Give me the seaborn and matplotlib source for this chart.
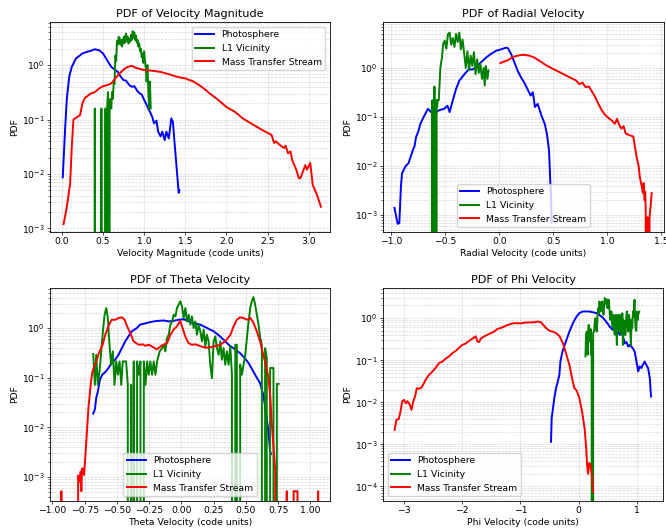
import matplotlib
matplotlib.use("Agg")
import matplotlib.pyplot as plt
import seaborn as sns

# ---------------- Velocity magnitude ----------------
vmag_photo_x = [0.01, 0.04, 0.06, 0.09, 0.12, 0.17, 0.25, 0.30, 0.35, 0.40, 0.45, 0.50, 0.55, 0.60, 0.62,
                0.65, 0.68, 0.70, 0.72, 0.75, 0.78, 0.80, 0.82, 0.85, 0.88, 0.90, 0.92, 0.95, 0.97, 1.00,
                1.02, 1.05, 1.07, 1.10, 1.12, 1.15, 1.17, 1.20, 1.22, 1.25, 1.27, 1.30, 1.33, 1.35, 1.37,
                1.40, 1.42, 1.43]
vmag_photo_y = [0.0087, 0.074, 0.245, 0.63, 0.93, 1.32, 1.64, 1.75, 1.83, 1.96, 1.88, 1.64, 1.23, 0.93, 0.88,
                0.81, 0.75, 0.66, 0.60, 0.53, 0.52, 0.47, 0.43, 0.40, 0.41, 0.37, 0.33, 0.30, 0.29, 0.23,
                0.20, 0.16, 0.14, 0.11, 0.085, 0.095, 0.06, 0.049, 0.06, 0.042, 0.06, 0.045, 0.105, 0.09, 0.037,
                0.0105, 0.0045, 0.005]

vmag_l1_x = [0.39, 0.40, 0.41, 0.47, 0.48, 0.49, 0.52, 0.53, 0.54, 0.55, 0.56, 0.57, 0.58, 0.59, 0.60,
             0.61, 0.62, 0.63, 0.64, 0.65, 0.66, 0.67, 0.68, 0.69, 0.70, 0.71, 0.72, 0.73, 0.74, 0.75,
             0.76, 0.77, 0.78, 0.79, 0.80, 0.81, 0.82, 0.83, 0.84, 0.85, 0.86, 0.87, 0.88, 0.89, 0.90,
             0.91, 0.92, 0.93, 0.94, 0.95, 0.96, 0.97, 0.98, 0.99, 1.00, 1.01, 1.02, 1.03, 1.04, 1.05,
             1.06, 1.07, 1.08]
vmag_l1_y = [0, 0.16, 0, 0, 0.16, 0, 0, 0.16, 0, 0.16, 0.32, 0, 0.16, 0.24, 0.16,
             0.32, 0.24, 0.50, 0.45, 1.5, 1.2, 2.8, 2.4, 3.3, 3.2, 2.4, 2.9, 2.2, 3.0, 2.5,
             3.4, 2.6, 3.8, 2.8, 3.3, 2.5, 3.0, 2.7, 3.6, 2.9, 4.2, 3.2, 4.0, 2.9, 3.5,
             2.6, 2.9, 2.2, 2.5, 1.8, 2.0, 1.4, 1.6, 1.1, 1.8, 1.2, 0.9, 0.5, 1.0, 0.35,
             0.16, 0.5, 0.16]

vmag_stream_x = [0.02, 0.06, 0.10, 0.12, 0.14, 0.18, 0.22, 0.25, 0.28, 0.35, 0.40, 0.45, 0.50, 0.55, 0.60,
                 0.65, 0.70, 0.75, 0.80, 0.85, 0.90, 0.95, 1.00, 1.10, 1.20, 1.30, 1.40, 1.50, 1.60, 1.70,
                 1.80, 1.90, 2.00, 2.10, 2.20, 2.30, 2.40, 2.50, 2.55, 2.58, 2.60, 2.65, 2.70, 2.72, 2.75,
                 2.78, 2.80, 2.85, 2.88, 2.90, 2.93, 2.96, 2.98, 3.02, 3.05, 3.10, 3.15]
vmag_stream_y = [0.0012, 0.0025, 0.0068, 0.032, 0.10, 0.11, 0.12, 0.20, 0.25, 0.30, 0.32, 0.37, 0.41, 0.43, 0.46,
                 0.57, 0.70, 0.83, 0.93, 0.97, 0.89, 0.85, 0.81, 0.79, 0.75, 0.68, 0.61, 0.57, 0.50, 0.40,
                 0.30, 0.23, 0.17, 0.14, 0.105, 0.085, 0.069, 0.057, 0.052, 0.037, 0.040, 0.034, 0.030, 0.033, 0.024,
                 0.026, 0.018, 0.012, 0.0084, 0.0084, 0.011, 0.0146, 0.012, 0.016, 0.0063, 0.0042, 0.0025]

# ---------------- Radial velocity ----------------
vr_photo_x = [-0.97, -0.94, -0.925, -0.91, -0.90, -0.866, -0.84, -0.825, -0.80, -0.785, -0.77, -0.75, -0.73,
              -0.70, -0.66, -0.63, -0.60, -0.56, -0.51, -0.48, -0.46, -0.43, -0.40, -0.37, -0.32, -0.28,
              -0.25, -0.22, -0.17, -0.12, -0.08, -0.03, 0.015, 0.06, 0.08, 0.11, 0.14, 0.17, 0.20, 0.23,
              0.26, 0.29, 0.31, 0.33, 0.355, 0.37, 0.395, 0.42, 0.44, 0.46, 0.47, 0.48, 0.485]
vr_photo_y = [0.0014, 0.00066, 0.00068, 0.0038, 0.0071, 0.010, 0.0114, 0.0144, 0.021, 0.025, 0.039, 0.050, 0.073,
              0.10, 0.147, 0.126, 0.117, 0.137, 0.147, 0.17, 0.126, 0.22, 0.375, 0.55, 0.76, 0.95,
              0.93, 1.03, 1.30, 1.65, 1.92, 2.25, 2.40, 2.60, 2.55, 1.92, 1.30, 0.88, 0.65, 0.51,
              0.375, 0.275, 0.32, 0.16, 0.186, 0.147, 0.10, 0.073, 0.046, 0.021, 0.006, 0.002, 0.0007]

vr_l1_x = [-0.625, -0.62, -0.615, -0.605, -0.60, -0.595, -0.59, -0.585, -0.58, -0.575, -0.57, -0.56,
           -0.545, -0.53, -0.52, -0.505, -0.49, -0.475, -0.46, -0.445, -0.43, -0.415, -0.40, -0.385,
           -0.37, -0.355, -0.34, -0.325, -0.31, -0.295, -0.28, -0.265, -0.25, -0.235, -0.22, -0.205,
           -0.19, -0.175, -0.16, -0.145, -0.135, -0.125, -0.11, -0.10]
vr_l1_y = [0, 0.22, 0, 0, 0.42, 0, 0.22, 0, 0.22, 0.16, 0.22, 0.22,
           1.03, 1.65, 3.07, 3.6, 2.5, 4.9, 5.3, 3.0, 4.1, 2.7, 5.0, 3.4,
           5.3, 2.4, 3.8, 2.0, 1.0, 2.2, 0.9, 1.8, 1.1, 2.1, 0.75, 1.5,
           0.8, 1.2, 0.6, 1.0, 0.44, 1.1, 0.6, 0.9]

vr_stream_x = [0.01, 0.045, 0.08, 0.11, 0.14, 0.19, 0.23, 0.28, 0.32, 0.37, 0.43, 0.50, 0.56, 0.62, 0.68,
               0.71, 0.74, 0.77, 0.80, 0.83, 0.85, 0.88, 0.91, 0.94, 0.97, 1.00, 1.04, 1.07, 1.09, 1.11,
               1.13, 1.15, 1.17, 1.20, 1.24, 1.255, 1.27, 1.29, 1.30, 1.315, 1.33, 1.335, 1.345, 1.35,
               1.355, 1.36, 1.37, 1.375, 1.385, 1.39, 1.40, 1.41]
vr_stream_y = [1.26, 1.36, 1.45, 1.60, 1.72, 1.83, 1.86, 1.78, 1.65, 1.41, 1.15, 0.95, 0.82, 0.70, 0.60,
               0.56, 0.47, 0.50, 0.405, 0.42, 0.35, 0.275, 0.20, 0.147, 0.117, 0.10, 0.085, 0.073, 0.092, 0.068,
               0.058, 0.065, 0.046, 0.043, 0.040, 0.025, 0.0155, 0.0098, 0.006, 0.0041, 0.0028, 0.0045, 0.002, 0.003,
               0.0012, 0, 0.0009, 0, 0, 0.0009, 0.0015, 0.0028]

# ---------------- Theta velocity ----------------
vth_photo_x = [-0.683, -0.67, -0.66, -0.647, -0.632, -0.613, -0.59, -0.564, -0.54, -0.513, -0.487, -0.46,
               -0.435, -0.41, -0.384, -0.345, -0.32, -0.29, -0.25, -0.214, -0.175, -0.137, -0.098, -0.06,
               -0.02, 0.005, 0.03, 0.057, 0.095, 0.147, 0.20, 0.25, 0.30, 0.34, 0.38, 0.42, 0.456, 0.49,
               0.52, 0.56, 0.585, 0.61, 0.635, 0.655, 0.675, 0.688, 0.695]
vth_photo_y = [0.019, 0.023, 0.039, 0.053, 0.09, 0.115, 0.13, 0.157, 0.20, 0.23, 0.29, 0.40,
               0.54, 0.68, 0.86, 1.0, 1.17, 1.22, 1.30, 1.36, 1.40, 1.42, 1.36, 1.40,
               1.47, 1.50, 1.47, 1.36, 1.26, 1.17, 1.0, 0.86, 0.68, 0.54, 0.43, 0.37, 0.31, 0.25,
               0.20, 0.13, 0.10, 0.078, 0.045, 0.021, 0.0083, 0.0033, 0.0029]

vth_l1_x = [-0.683, -0.670, -0.660, -0.647, -0.634, -0.621, -0.608, -0.595, -0.582, -0.570, -0.557, -0.544,
            -0.531, -0.518, -0.505, -0.492, -0.479, -0.466, -0.454, -0.441, -0.428, -0.415, -0.402, -0.389,
            -0.376, -0.369, -0.356, -0.343, -0.330, -0.317, -0.304, -0.291, -0.278, -0.265, -0.253, -0.240,
            -0.227, -0.214, -0.201, -0.188, -0.168, -0.149, -0.137, -0.124, -0.111, -0.098, -0.085, -0.072,
            -0.059, -0.046, -0.034, -0.021, -0.008, 0.005, 0.018, 0.031, 0.044, 0.057, 0.070, 0.082,
            0.095, 0.108, 0.121, 0.134, 0.147, 0.160, 0.173, 0.186, 0.198, 0.211, 0.224, 0.237,
            0.250, 0.263, 0.276, 0.289, 0.302, 0.314, 0.327, 0.340, 0.353, 0.366, 0.379, 0.392,
            0.405, 0.418, 0.430, 0.443, 0.456, 0.469, 0.482, 0.495, 0.508, 0.521, 0.534, 0.546,
            0.559, 0.572, 0.585, 0.598, 0.611, 0.624, 0.637, 0.649, 0.662, 0.675, 0.688, 0.701,
            0.714, 0.727, 0.740, 0.753]
vth_l1_y = [0.30, 0.072, 0.29, 0.072, 0.134, 0.339, 0.857, 1.85, 2.53, 1.59, 0.46, 0.183,
            0.339, 0.072, 0.213, 0.115, 0.213, 0.072, 0.213, 0.213, 0.213, 0.072, 0, 0.072,
            0, 0.213, 0, 0.213, 0.115, 0.213, 0, 0.213, 0.072, 0.213, 0.115, 0.213,
            0.115, 0.213, 0.115, 0.213, 0.339, 0.395, 0.46, 0.339, 0.63, 0.734, 1.17, 1.36,
            1.85, 1.72, 2.53, 2.95, 3.45, 2.73, 1.59, 2.53, 1.36, 1.85, 1.17, 1.72,
            1.0, 1.36, 0.734, 1.17, 0.857, 0.54, 0.93, 0.43, 0.734, 0.54, 0.183, 0.098,
            0.54, 0.68, 0.395, 0.29, 0.54, 0.23, 0.395, 0.183, 0.339, 0.183, 0.43, 0.115,
            0, 0.46, 0.46, 0, 0.183, 0.115, 0.183, 0.29, 0.63, 1.36, 2.53, 3.45,
            4.2, 2.95, 1.85, 1.17, 0.63, 0.46, 0, 0.395, 0.249, 0, 0.157, 0.157,
            0.157, 0, 0.075, 0.075]

vth_stream_x = [-0.935, -0.93, -0.925, -0.81, -0.80, -0.79, -0.78, -0.775, -0.77, -0.76, -0.755, -0.745,
                -0.735, -0.72, -0.70, -0.69, -0.66, -0.64, -0.61, -0.59, -0.56, -0.54, -0.51, -0.485,
                -0.46, -0.44, -0.42, -0.39, -0.37, -0.33, -0.30, -0.28, -0.25, -0.21, -0.19, -0.16,
                -0.14, -0.11, -0.085, -0.06, -0.035, -0.008, 0.005, 0.03, 0.055, 0.08, 0.11, 0.15,
                0.19, 0.22, 0.26, 0.30, 0.34, 0.38, 0.405, 0.43, 0.455, 0.48, 0.51, 0.535,
                0.56, 0.585, 0.61, 0.635, 0.655, 0.675, 0.69, 0.70, 0.715, 0.728, 0.735,
                0.81, 0.817, 0.825, 0.865, 0.87, 0.88, 0.89, 0.90, 0.905, 1.055, 1.06, 1.065]
vth_stream_y = [0, 0.00052, 0, 0, 0.00107, 0.0008, 0.0013, 0.00052, 0.0015, 0.0014, 0.0011, 0.0024,
                0.006, 0.025, 0.085, 0.13, 0.21, 0.31, 0.46, 0.73, 1.17, 1.47, 1.47, 1.60,
                1.64, 1.47, 1.08, 0.73, 0.54, 0.46, 0.47, 0.44, 0.46, 0.40, 0.37, 0.43,
                0.46, 0.50, 0.73, 0.93, 1.08, 1.40, 1.08, 0.68, 0.50, 0.46, 0.47, 0.43,
                0.40, 0.41, 0.43, 0.46, 0.54, 0.73, 1.08, 1.47, 1.64, 1.60, 1.47, 1.60,
                1.26, 0.85, 0.54, 0.29, 0.18, 0.10, 0.039, 0.013, 0.0038, 0.0013, 0,
                0, 0.00052, 0, 0, 0.00052, 0.00052, 0.00052, 0.00052, 0, 0, 0.00052, 0]

# ---------------- Phi velocity ----------------
vph_photo_x = [-0.476, -0.465, -0.45, -0.42, -0.39, -0.36, -0.333, -0.315, -0.28, -0.22, -0.16, -0.10,
               -0.046, 0.01, 0.07, 0.126, 0.18, 0.24, 0.30, 0.35, 0.41, 0.47, 0.53, 0.58, 0.615, 0.64,
               0.67, 0.70, 0.73, 0.76, 0.79, 0.82, 0.85, 0.875, 0.905, 0.93, 0.96, 0.99, 1.02, 1.045,
               1.075, 1.10, 1.13, 1.16, 1.19, 1.22, 1.24]
vph_photo_y = [0.00115, 0.0042, 0.006, 0.0125, 0.0216, 0.031, 0.045, 0.093, 0.16, 0.28, 0.48, 0.76,
               1.04, 1.32, 1.44, 1.44, 1.44, 1.38, 1.32, 1.20, 1.04, 0.83, 0.63, 0.53, 0.58, 0.48,
               0.53, 0.40, 0.48, 0.37, 0.25, 0.27, 0.21, 0.23, 0.21, 0.19, 0.16, 0.093, 0.054, 0.071,
               0.065, 0.077, 0.093, 0.077, 0.065, 0.037, 0.0137]

vph_l1_x = [0.115, 0.125, 0.138, 0.148, 0.155, 0.165, 0.172, 0.185, 0.195, 0.205, 0.212, 0.222,
            0.229, 0.240, 0.247, 0.264, 0.275, 0.287, 0.298, 0.31, 0.322, 0.333, 0.345, 0.356,
            0.368, 0.379, 0.39, 0.402, 0.413, 0.425, 0.436, 0.447, 0.458, 0.47, 0.48, 0.493,
            0.505, 0.516, 0.528, 0.539, 0.55, 0.562, 0.573, 0.585, 0.593, 0.602, 0.611, 0.62,
            0.628, 0.637, 0.645, 0.654, 0.662, 0.671, 0.68, 0.688, 0.697, 0.706, 0.714, 0.723,
            0.731, 0.74, 0.748, 0.757, 0.768, 0.78, 0.79, 0.803, 0.815, 0.826, 0.838, 0.849,
            0.86, 0.872, 0.884, 0.895, 0.906, 0.918, 0.93, 0.941, 0.95, 0.958, 0.967, 0.975,
            0.986, 0.998, 1.01, 1.021, 1.038]
vph_l1_y = [0.122, 0.40, 0.48, 0.20, 0.134, 0.60, 0.69, 0.35, 0.28, 0.55, 0.134, 0.30,
            0, 0, 0.45, 0.48, 0.80, 1.0, 0.55, 0.48, 1.1, 1.73, 1.3, 2.49,
            1.5, 1.44, 2.2, 2.49, 1.6, 1.2, 2.0, 3.0, 2.2, 2.49, 2.8, 1.73,
            2.6, 2.73, 1.5, 0.91, 1.3, 1.44, 0.7, 0.58, 1.2, 0.91, 0.45, 0.40,
            0.9, 1.2, 0.6, 0.23, 0.8, 0.75, 1.2, 0.48, 0.9, 1.2, 0.6, 0.40,
            0.7, 0.58, 1.3, 0.23, 0.9, 0.75, 0.4, 0.40, 1.1, 1.44, 0.7, 0.48,
            1.2, 1.0, 0.5, 0.23, 0.9, 0.58, 1.44, 1.1, 2.0, 2.73, 1.0, 0.58,
            0.5, 1.44, 0.9, 1.2, 1.44]

vph_stream_x = [-3.16, -3.13, -3.09, -3.06, -3.03, -3.00, -2.97, -2.94, -2.90, -2.87, -2.84, -2.81, -2.78,
                -2.75, -2.71, -2.67, -2.63, -2.57, -2.51, -2.46, -2.40, -2.34, -2.28, -2.23, -2.17, -2.11,
                -2.05, -2.00, -1.94, -1.88, -1.82, -1.77, -1.74, -1.71, -1.68, -1.62, -1.57, -1.51, -1.45,
                -1.40, -1.34, -1.28, -1.22, -1.17, -1.11, -1.05, -0.99, -0.94, -0.85, -0.76, -0.71, -0.65,
                -0.61, -0.56, -0.50, -0.45, -0.39, -0.33, -0.27, -0.22, -0.16, -0.115, -0.075, -0.035,
                0.01, 0.057, 0.10, 0.126, 0.143, 0.16, 0.18, 0.20, 0.225, 0.247]
vph_stream_y = [0.0022, 0.0038, 0.0040, 0.0060, 0.0106, 0.0114, 0.0095, 0.0106, 0.0087, 0.0066, 0.0106, 0.0137, 0.0216,
                0.021, 0.0216, 0.026, 0.034, 0.045, 0.054, 0.065, 0.085, 0.093, 0.11, 0.122, 0.147, 0.167,
                0.20, 0.23, 0.25, 0.29, 0.33, 0.37, 0.28, 0.27, 0.33, 0.37, 0.40, 0.44, 0.48,
                0.55, 0.58, 0.63, 0.69, 0.72, 0.76, 0.76, 0.75, 0.78, 0.79, 0.80, 0.83, 0.80,
                0.69, 0.58, 0.50, 0.48, 0.44, 0.37, 0.25, 0.147, 0.077, 0.037, 0.0216, 0.019,
                0.0125, 0.006, 0.0024, 0.0009, 0.00033, 0.0002, 0.00036, 0.00033, 0.00018, 0.000074]

series_labels = ["Photosphere", "L1 Vicinity", "Mass Transfer Stream"]
series_colors = ["blue", "green", "red"]

panels = [
    dict(title="PDF of Velocity Magnitude", xlabel="Velocity Magnitude (code units)",
         data=[(vmag_photo_x, vmag_photo_y), (vmag_l1_x, vmag_l1_y), (vmag_stream_x, vmag_stream_y)],
         xlim=(-0.145, 3.26), ylim=(8.6e-4, 6.2), xticks=[0, 0.5, 1.0, 1.5, 2.0, 2.5, 3.0],
         legend="upper right", rect=(50, 22, 330, 232)),
    dict(title="PDF of Radial Velocity", xlabel="Radial Velocity (code units)",
         data=[(vr_photo_x, vr_photo_y), (vr_l1_x, vr_l1_y), (vr_stream_x, vr_stream_y)],
         xlim=(-1.076, 1.524), ylim=(4.5e-4, 8.7), xticks=[-1.0, -0.5, 0.0, 0.5, 1.0, 1.5],
         legend="lower center", rect=(383, 22, 664, 232)),
    dict(title="PDF of Theta Velocity", xlabel="Theta Velocity (code units)",
         data=[(vth_photo_x, vth_photo_y), (vth_l1_x, vth_l1_y), (vth_stream_x, vth_stream_y)],
         xlim=(-1.018, 1.152), ylim=(3.3e-4, 6.4),
         xticks=[-1.0, -0.75, -0.5, -0.25, 0.0, 0.25, 0.5, 0.75, 1.0],
         legend="lower center", rect=(50, 288, 330, 501)),
    dict(title="PDF of Phi Velocity", xlabel="Phi Velocity (code units)",
         data=[(vph_photo_x, vph_photo_y), (vph_l1_x, vph_l1_y), (vph_stream_x, vph_stream_y)],
         xlim=(-3.36, 1.446), ylim=(4.5e-5, 5.2), xticks=[-3, -2, -1, 0, 1],
         legend="lower left", rect=(383, 288, 663, 501)),
]

W, H = 666, 531
fig = plt.figure(figsize=(W / 100, H / 100), dpi=100)

FS = 6.7
for p in panels:
    l, t, r, b = p["rect"]
    ax = fig.add_axes([l / W, 1 - b / H, (r - l) / W, (b - t) / H])
    for (xs, ys), lab, col in zip(p["data"], series_labels, series_colors):
        sns.lineplot(x=xs, y=ys, ax=ax, color=col, label=lab, linewidth=1.4,
                     sort=False, estimator=None)
    ax.set_yscale("log", nonpositive="clip")
    ax.set_xlim(*p["xlim"])
    ax.set_ylim(*p["ylim"])
    ax.set_xticks(p["xticks"])
    ax.set_title(p["title"], fontsize=8.1, pad=3.5)
    ax.set_xlabel(p["xlabel"], fontsize=FS, labelpad=2)
    ax.set_ylabel("PDF", fontsize=FS, labelpad=2)
    ax.tick_params(axis="both", which="major", labelsize=FS, length=2.2, width=0.5, pad=1.5)
    ax.tick_params(axis="both", which="minor", length=1.3, width=0.4)
    ax.grid(True, which="both", linestyle="--", linewidth=0.5, alpha=0.5)
    for s in ax.spines.values():
        s.set_linewidth(0.6)
    ax.legend(loc=p["legend"], fontsize=FS, handlelength=2.0, borderaxespad=0.5,
              framealpha=0.8, edgecolor="#cccccc")

fig.savefig("out.png", dpi=100)
